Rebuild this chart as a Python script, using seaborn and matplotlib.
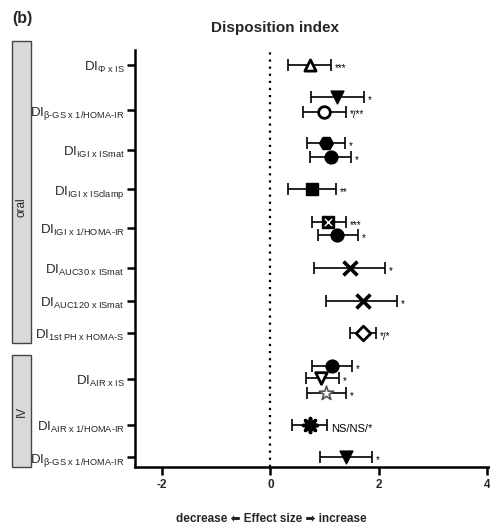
import matplotlib
matplotlib.use("Agg")
import matplotlib.pyplot as plt
import seaborn as sns
import pandas as pd
from matplotlib.patches import Rectangle

sns.set_style("ticks")
plt.rcParams['font.family'] = ['Liberation Sans', 'DejaVu Sans']
plt.rcParams['mathtext.fontset'] = 'custom'
plt.rcParams['mathtext.rm'] = 'Liberation Sans'
plt.rcParams['mathtext.it'] = 'Liberation Sans'
plt.rcParams['mathtext.bf'] = 'Liberation Sans:bold'

# ---------------- data ----------------
row_labels = [
    r"DI$_\mathrm{Φ\ x\ IS}$",
    r"DI$_\mathrm{β\text{-}GS\ x\ 1/HOMA\text{-}IR}$",
    r"DI$_\mathrm{IGI\ x\ ISmat}$",
    r"DI$_\mathrm{IGI\ x\ ISclamp}$",
    r"DI$_\mathrm{IGI\ x\ 1/HOMA\text{-}IR}$",
    r"DI$_\mathrm{AUC30\ x\ ISmat}$",
    r"DI$_\mathrm{AUC120\ x\ ISmat}$",
    r"DI$_\mathrm{1st\ PH\ x\ HOMA\text{-}S}$",
    r"DI$_\mathrm{AIR\ x\ IS}$",
    r"DI$_\mathrm{AIR\ x\ 1/HOMA\text{-}IR}$",
    r"DI$_\mathrm{β\text{-}GS\ x\ 1/HOMA\text{-}IR}$",
]
point_row = [0, 1, 1, 2, 2, 3, 4, 4, 5, 6, 7, 8, 8, 8, 9, 10]
effect = [0.72, 1.23, 0.98, 1.03, 1.12, 0.77, 1.07, 1.23, 1.47, 1.70, 1.70, 1.14, 0.94, 1.03, 0.72, 1.40]
lower = [0.33, 0.74, 0.60, 0.67, 0.73, 0.33, 0.76, 0.87, 0.81, 1.03, 1.46, 0.76, 0.66, 0.68, 0.39, 0.92]
upper = [1.12, 1.73, 1.40, 1.38, 1.49, 1.21, 1.40, 1.62, 2.12, 2.34, 1.95, 1.51, 1.27, 1.40, 1.05, 1.88]
significance = ["***", "*", "*/**", "*", "*", "**", "***", "*", "*", "*", "*/*", "*", "*", "*", "NS/NS/*", "*"]
x_ticks = [-2, 0, 2, 4]

# ---------------- layout / style ----------------
row_pos = [1.5, 6.0, 10.0, 13.9, 17.8, 21.8, 25.1, 28.3, 32.9, 37.5, 40.7]
point_offset = [0, -1.3, 0.2, -0.7, 0.7, 0, -0.6, 0.7, 0, 0, 0, -1.3, -0.1, 1.4, 0, 0]
# (marker, size, face, edge, edgewidth)
styles = [
    ("^", 65, "white", "black", 2.0),
    ("v", 85, "black", "black", 1.0),
    ("o", 70, "white", "black", 2.0),
    ("H", 100, "black", "black", 1.0),
    ("o", 85, "black", "black", 1.0),
    ("s", 85, "black", "black", 1.0),
    ("s", 85, "black", "black", 1.0),
    ("o", 85, "black", "black", 1.0),
    ("x", 100, "black", "black", 2.6),
    ("x", 100, "black", "black", 2.6),
    ("D", 55, "white", "black", 2.0),
    ("o", 85, "black", "black", 1.0),
    ("v", 70, "white", "black", 2.0),
    ("*", 115, "white", "#555555", 1.2),
    ((8, 2, 0), 100, "black", "black", 2.6),
    ("v", 85, "black", "black", 1.0),
]

df = pd.DataFrame({
    "effect": effect, "lower": lower, "upper": upper,
    "sig": significance,
    "y": [row_pos[r] + o for r, o in zip(point_row, point_offset)],
})

fig = plt.figure(figsize=(4.9, 5.27), dpi=100)
ax = fig.add_axes([135 / 490, 1 - 467 / 527, (490 - 135) / 490, (467 - 50) / 527])

ax.axvline(0, color="black", lw=1.6, ls=(0, (1, 2.2)), zorder=1)

for i, r in df.iterrows():
    ax.errorbar(r["effect"], r["y"],
                xerr=[[r["effect"] - r["lower"]], [r["upper"] - r["effect"]]],
                fmt="none", ecolor="black", elinewidth=1.2, capsize=4.5, capthick=1.2, zorder=2)
    m, s, fc, ec, lw = styles[i]
    sub = df.iloc[[i]]
    if m == "x":
        sns.scatterplot(data=sub, x="effect", y="y", marker=m, s=s, color=ec,
                        linewidth=lw, ax=ax, zorder=3, legend=False)
    else:
        sns.scatterplot(data=sub, x="effect", y="y", marker=m, s=s, facecolor=fc,
                        edgecolor=ec, linewidth=lw, ax=ax, zorder=3, legend=False)
    if i == 6:
        ax.scatter([r["effect"]], [r["y"]], marker="x", s=28, color="white", linewidths=1.0, zorder=4)
    fs = 8 if r["sig"].startswith("NS") else 7
    ax.text(r["upper"] + 0.07, r["y"] + 0.35, r["sig"], fontsize=fs,
            ha="left", va="center", color="black", zorder=5)

ax.set_xlim(-2.5, 4.05)
ax.set_ylim(41.7, 0)
ax.set_xticks(x_ticks)
ax.set_xticklabels([str(t) for t in x_ticks], fontweight="bold", fontsize=8.5)
ax.set_yticks(row_pos)
ax.set_yticklabels(row_labels, fontsize=9.5)
ax.tick_params(axis="both", width=1.8, length=6, color="black")
ax.tick_params(axis="y", pad=1.5)
ax.tick_params(axis="x", pad=3)
ax.set_xlabel("")
ax.set_ylabel("")
sns.despine(ax=ax)
for sp in ["left", "bottom"]:
    ax.spines[sp].set_linewidth(1.8)
    ax.spines[sp].set_color("black")

# titles
fig.text(275 / 490, 1 - 28 / 527, "Disposition index", ha="center", va="center",
         fontsize=11, fontweight="bold")
fig.text(12 / 490, 1 - 19 / 527, "(b)", ha="left", va="center", fontsize=11.5, fontweight="bold")
fig.text(271 / 490, 1 - 519 / 527, "decrease \u2B05 Effect size \u27A1 increase", ha="center",
         va="center", fontsize=8.5, fontweight="bold", family=["Liberation Sans", "DejaVu Sans"])

# group boxes
for (y0, y1, label, ty) in [(41, 343, "oral", 207), (355, 467, "IV", 411)]:
    rect = Rectangle((12 / 490, 1 - y1 / 527), 19 / 490, (y1 - y0) / 527,
                     transform=fig.transFigure, facecolor="#d9d9d9", edgecolor="#444444", lw=1.0)
    fig.add_artist(rect)
    fig.text(21.5 / 490, 1 - ty / 527, label, rotation=90, ha="center", va="center", fontsize=8.5)

fig.savefig("out.png", dpi=100)
